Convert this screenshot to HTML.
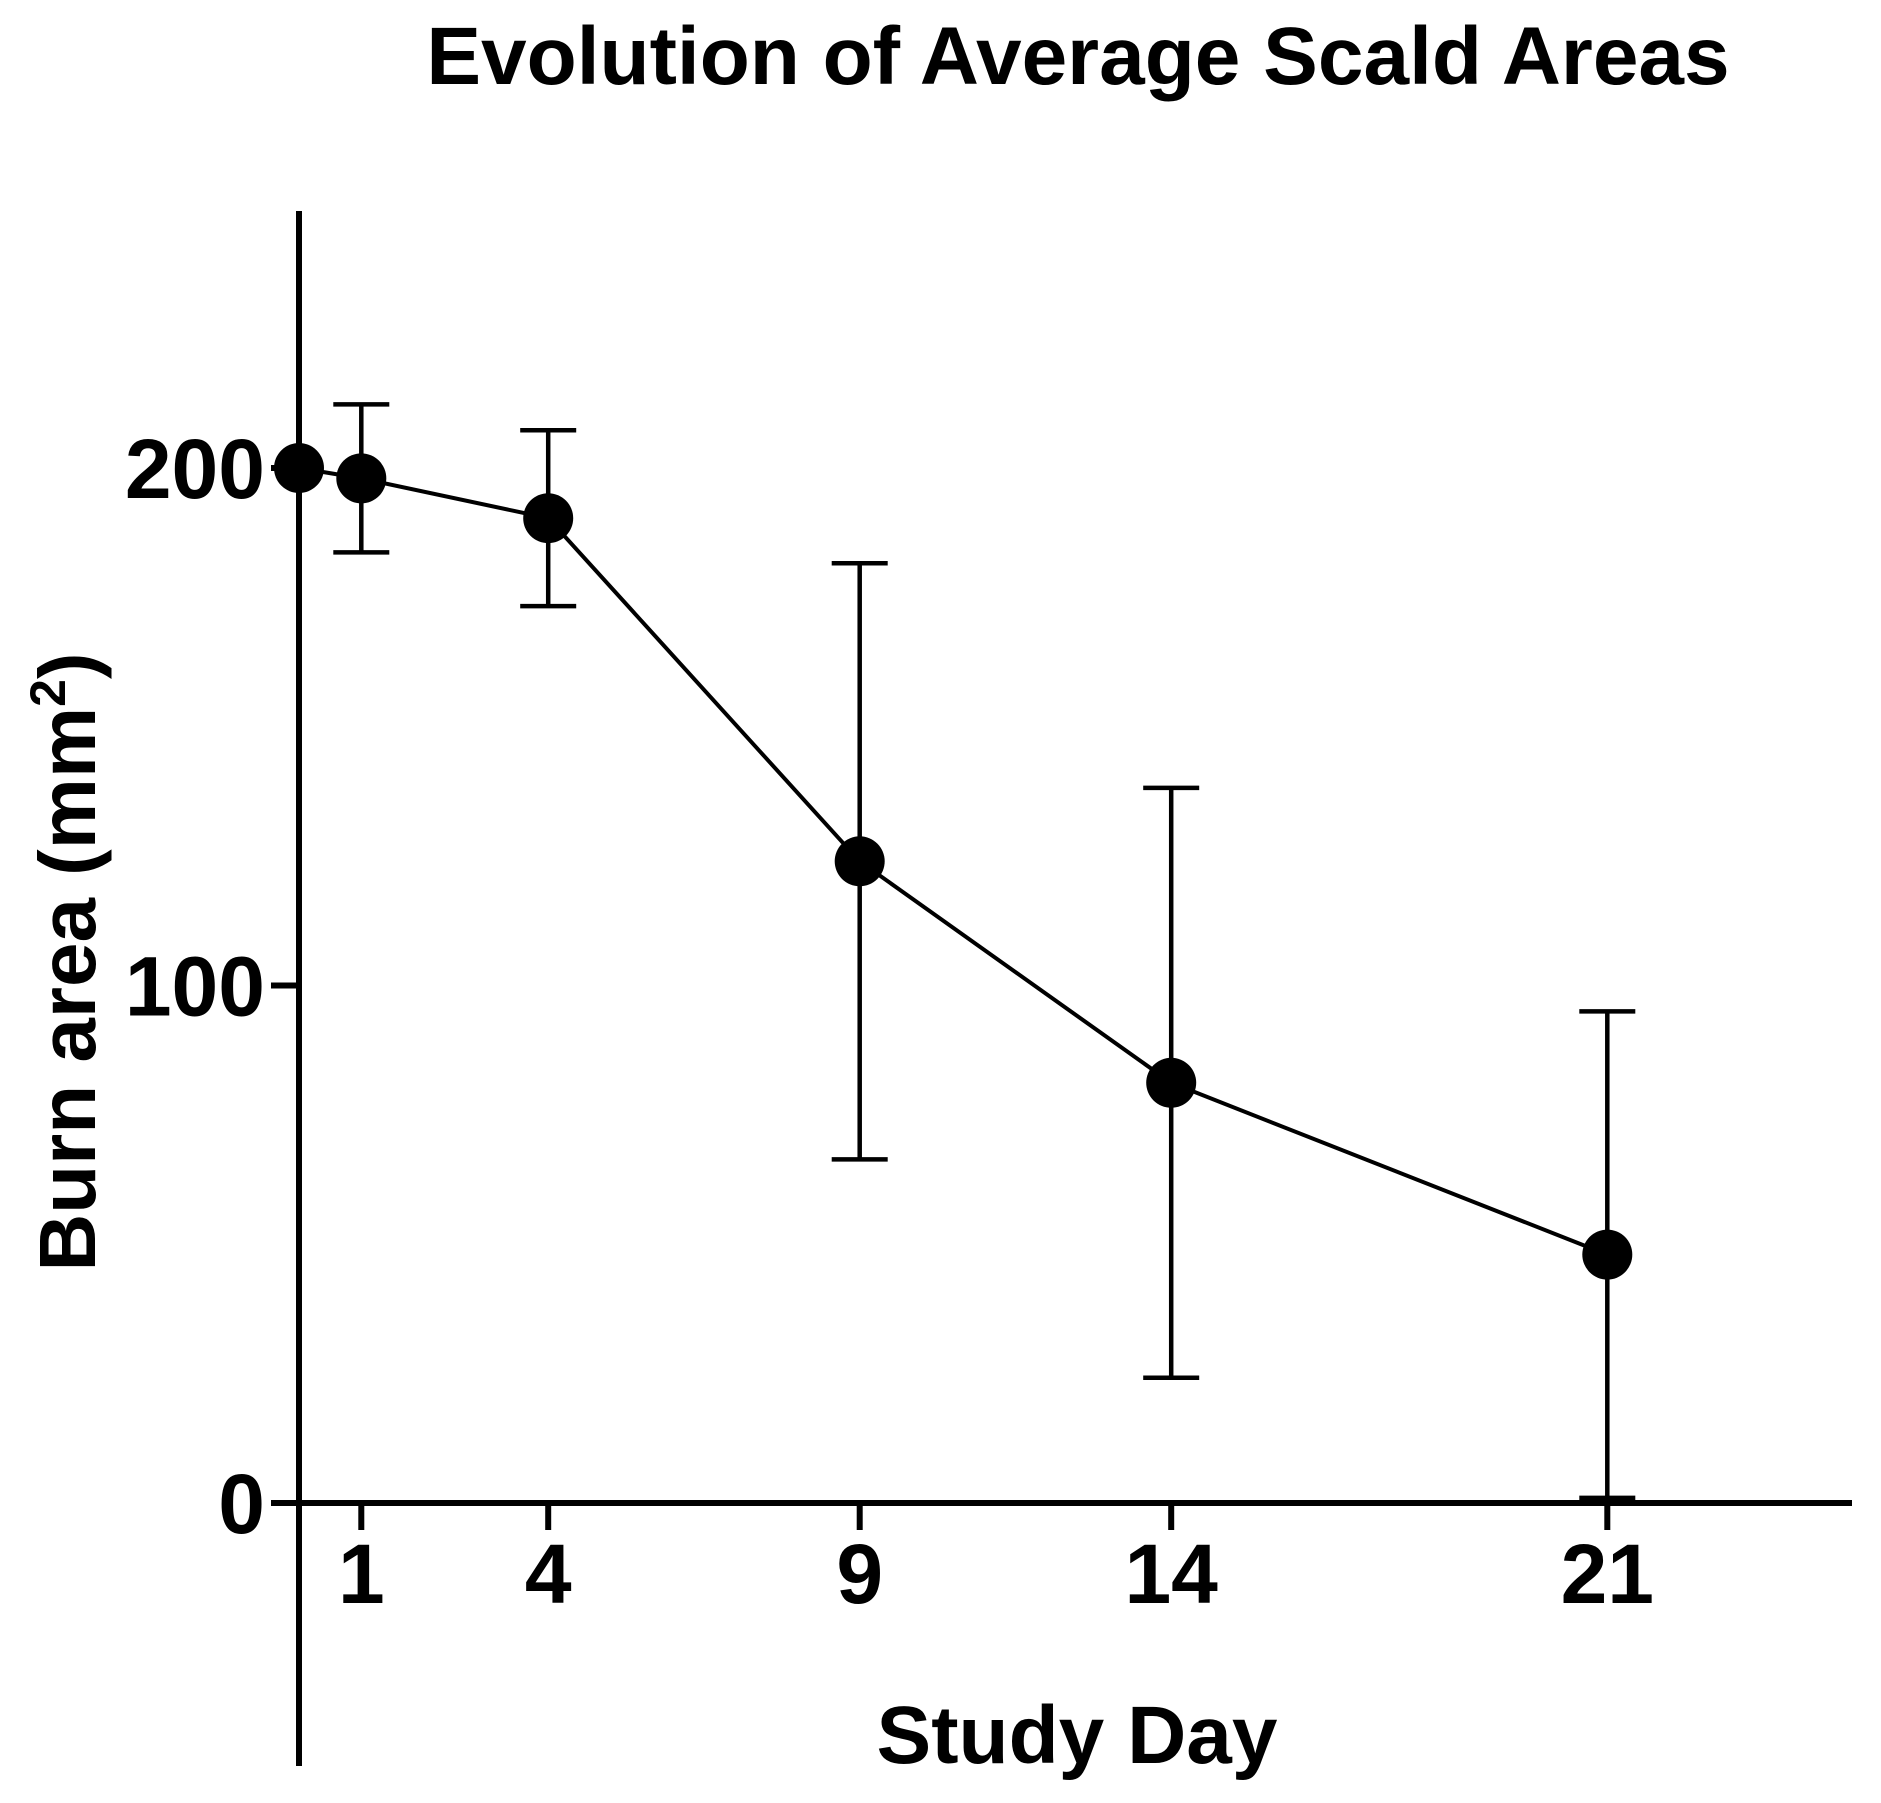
<!DOCTYPE html>
<html><head><meta charset="utf-8"><style>
html,body{margin:0;padding:0;background:#fff;}
svg{display:block;font-family:"Liberation Sans",Arial,sans-serif;font-weight:bold;}
</style></head><body>
<svg id="chart" width="1881" height="1803" viewBox="0 0 1881 1803" xmlns="http://www.w3.org/2000/svg">
<rect width="1881" height="1803" fill="#fff"/>
<text x="1078" y="84" font-size="82" text-anchor="middle">Evolution of Average Scald Areas</text>
<text x="1077" y="1763" font-size="82" text-anchor="middle">Study Day</text>
<text transform="translate(95,962) rotate(-90)" font-size="80" text-anchor="middle">Burn area (mm<tspan font-size="50" dy="-30">2</tspan><tspan dy="30">)</tspan></text>
<g id="axes"></g>
<g id="marks"></g>
</svg>
<script>
const days = [0, 1, 4, 9, 14, 21];
const means = [200, 198, 190.3, 124, 81.2, 48];
const errors = [0, 14.3, 17, 57.6, 57, 47];
const xTicks = [1, 4, 9, 14, 21];
const yTicks = [0, 100, 200];

const NS = 'http://www.w3.org/2000/svg';
const x = d => 299 + d * 62.3;
const y = v => 1503 - v * 5.175;
function mk(tag, attrs, parent) {
  const e = document.createElementNS(NS, tag);
  for (const k in attrs) e.setAttribute(k, attrs[k]);
  parent.appendChild(e);
  return e;
}
const axes = document.getElementById('axes');
const marks = document.getElementById('marks');

const ya = mk('line', {x1: 299, y1: 211, x2: 299, y2: 1766, stroke: '#000', 'stroke-width': 6}, axes);


const xa = mk('line', {x1: 296, y1: 1503, x2: 1852, y2: 1503, stroke: '#000', 'stroke-width': 6}, axes);



yTicks.forEach(v => {
  const t = mk('line', {x1: 271, y1: y(v), x2: 299, y2: y(v), stroke: '#000', 'stroke-width': 6}, axes);
  
  
  const l = mk('text', {x: 265, y: y(v) + 30, 'font-size': 84, 'text-anchor': 'end'}, axes);
  l.textContent = v;
  
  
});
xTicks.forEach(d => {
  const t = mk('line', {x1: x(d), y1: 1503, x2: x(d), y2: 1530, stroke: '#000', 'stroke-width': 6}, axes);
  
  
  const l = mk('text', {x: x(d), y: 1603, 'font-size': 84, 'text-anchor': 'middle'}, axes);
  l.textContent = d;
  
  
});

const pts = days.map((d, i) => x(d) + ',' + y(means[i])).join(' ');
const line = mk('polyline', {points: pts, fill: 'none', stroke: '#000', 'stroke-width': 4}, marks);



days.forEach((d, i) => {
  if (errors[i] > 0) {
    const top = y(means[i] + errors[i]);
    const bot = y(Math.max(0, means[i] - errors[i]));
    const eb = mk('path', {d: `M${x(d)},${top}V${bot}M${x(d)-28},${top}H${x(d)+28}M${x(d)-28},${bot}H${x(d)+28}`, fill: 'none', stroke: '#000', 'stroke-width': 4.5}, marks);
    
    
  }
  const c = mk('circle', {cx: x(d), cy: y(means[i]), r: 25, fill: '#000'}, marks);
  
  
});
</script>
</body></html>
